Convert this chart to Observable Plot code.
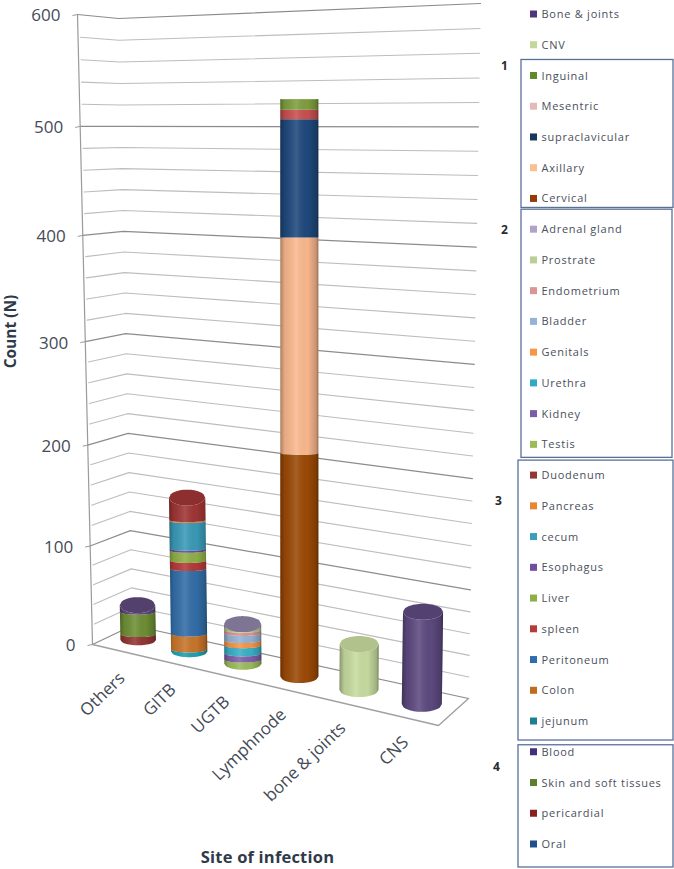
<!DOCTYPE html>
<html>
<head>
<meta charset="utf-8">
<style>
html,body{margin:0;padding:0;background:#fff}
.legend text{letter-spacing:.75px}
.xtitle text{letter-spacing:.2px}
</style>
<script src="https://cdn.jsdelivr.net/npm/d3@7"></script>
<script src="https://cdn.jsdelivr.net/npm/@observablehq/plot@0.6"></script>
</head>
<body>
<script>
// ---------- data ----------
const categories = ["Others", "GITB", "UGTB", "Lymphnode", "bone & joints", "CNS"];

const othersSeries = ["Oral", "pericardial", "Skin and soft tissues", "Blood"];
const othersValues = [0, 6, 23, 7];
const gitbSeries = ["jejunum", "Colon", "Peritoneum", "spleen", "Liver", "Esophagus", "cecum", "Pancreas", "Duodenum"];
const gitbValues = [2, 16, 65, 8, 10, 2, 27, 1, 22];
const ugtbSeries = ["Testis", "Kidney", "Urethra", "Genitals", "Bladder", "Endometrium", "Prostrate", "Adrenal gland"];
const ugtbValues = [4, 6, 8, 5, 7, 3, 3, 3];
const lymphSeries = ["Cervical", "Axillary", "supraclavicular", "Mesentric", "Inguinal"];
const lymphValues = [210, 193, 102, 8, 9];
const boneSeries = ["CNV"];
const boneValues = [43];
const cnsSeries = ["Bone & joints"];
const cnsValues = [84];

const legendLabels = ["Bone & joints", "CNV", "Inguinal", "Mesentric", "supraclavicular", "Axillary", "Cervical",
  "Adrenal gland", "Prostrate", "Endometrium", "Bladder", "Genitals", "Urethra", "Kidney", "Testis",
  "Duodenum", "Pancreas", "cecum", "Esophagus", "Liver", "spleen", "Peritoneum", "Colon", "jejunum",
  "Blood", "Skin and soft tissues", "pericardial", "Oral"];
const legendColors = ["#4f3580", "#c3d69b", "#5f8a2a", "#e6b9b8", "#17375e", "#fac090", "#953a0a",
  "#b3a2c7", "#b9cf96", "#d99694", "#95b3d7", "#f79646", "#31a9c0", "#7b5ea7", "#9bbb59",
  "#953735", "#e8872f", "#3aa0b8", "#6f4f9f", "#8cb043", "#b83b3b", "#2f6db0", "#c46a1f", "#1f7f92",
  "#43307a", "#5f7f2f", "#8a1f22", "#1f4f8f"];
const barColors = {
  "Oral": "#1f497d", "pericardial": "#943634", "Skin and soft tissues": "#6f8f35", "Blood": "#5f497a",
  "jejunum": "#1fa0b0", "Colon": "#c8752a", "Peritoneum": "#336ea8", "spleen": "#b53a3a", "Liver": "#90b048",
  "Esophagus": "#6a4a9a", "cecum": "#3a9ab8", "Pancreas": "#e8872f", "Duodenum": "#a03535",
  "Testis": "#9bbb59", "Kidney": "#8060a8", "Urethra": "#3ab0c8", "Genitals": "#f79646", "Bladder": "#95b3d7",
  "Endometrium": "#d99694", "Prostrate": "#b5cc8e", "Adrenal gland": "#8f85a8",
  "Cervical": "#9c4a06", "Axillary": "#fbb98f", "supraclavicular": "#1f497d", "Mesentric": "#c9504f", "Inguinal": "#7f9f3f",
  "CNV": "#c8dca0", "Bone & joints": "#5d4a80"
};
const yTicks = [0, 100, 200, 300, 400, 500, 600];
const gridValues = d3.range(0, 601, 20);
const legendGroups = [
  {name: "1", first: 2, last: 6},
  {name: "2", first: 7, last: 14},
  {name: "3", first: 15, last: 23},
  {name: "4", first: 24, last: 27}
];

// ---------- 3D perspective box: (u along categories, d depth, v count) -> page ----------
const box = {
  bottom: {fl: [92, 644], bl: [132, 625], br: [468, 698], fr: [438, 725]},
  top: {fl: [77, 14], bl: [118, 18], br: [480, 3], fr: [450, -8]}
};
const uW = 1.17, vW = 1.08, vMax = 600, columnShift = 1.6;
const persp = (a, w) => a / (a + (1 - a) * w);
const lerp = (a, b, t) => a + (b - a) * t;
function project(u, d, v) {
  const s = persp(u, uW), t = persp(v / vMax, vW);
  return [0, 1].map(k => {
    const lo = lerp(lerp(box.bottom.fl[k], box.bottom.fr[k], s), lerp(box.bottom.bl[k], box.bottom.br[k], s), d);
    const hi = lerp(lerp(box.top.fl[k], box.top.fr[k], s), lerp(box.top.bl[k], box.top.br[k], s), d);
    return lerp(lo, hi, t);
  });
}

// ---------- walls ----------
const wallMarks = gridValues.map(v => {
  const major = v % 100 === 0;
  const pts = [project(0, major ? 0 : 0.06, v), project(0, 1, v), project(1, 1, v)];
  return Plot.line(pts, {x: p => p[0], y: p => p[1], stroke: major ? "#8c8c8c" : "#bdbdbd", strokeWidth: major ? 1.2 : 1.1, curve: "linear"});
});
const floorMark = Plot.line([project(0, 0, 0), project(1, 0, 0), project(1, 1, 0)],
  {x: p => p[0], y: p => p[1], stroke: "#a0a0a0", strokeWidth: 1.4});
const axisMark = Plot.line([project(0, 0, 0), project(0, 0, vMax)],
  {x: p => p[0], y: p => p[1], stroke: "#9a9a9a", strokeWidth: 1.2});
const tickMark = Plot.link(yTicks, {
  x1: v => project(0, 0, v)[0] - 5, y1: v => project(0, 0, v)[1] + 1,
  x2: v => project(0, 0, v)[0], y2: v => project(0, 0, v)[1],
  stroke: "#9a9a9a"
});
const tickLabels = Plot.text(yTicks, {
  x: v => project(0, 0, v)[0] - 17, y: v => project(0, 0, v)[1] + 1.5, text: d => String(d),
  textAnchor: "end", fontFamily: "Open Sans", fontSize: 17, fill: "#454b57"
});

// ---------- cylinders ----------
const stacks = [
  [othersSeries, othersValues], [gitbSeries, gitbValues], [ugtbSeries, ugtbValues],
  [lymphSeries, lymphValues], [boneSeries, boneValues], [cnsSeries, cnsValues]
];
const arcT = d3.range(-1, 1.0001, 0.1);
const clamp01 = x => Math.max(0, Math.min(1, x));
const capRy = v => 8 * clamp01((525 - v) / 200);
const innerRy = v => 2.9 * clamp01(1 - v / 400);
function cylinder(i) {
  const u = (i + 0.5) / categories.length, s = persp(u, uW);
  const hw = 17.5 + 2.8 * s, baseRy = 5 + 3 * s;
  const [names, values] = stacks[i];
  const tops = d3.cumsum(values);
  const total = tops[tops.length - 1];
  const rim = (v, ry, t, sign) => {
    const [x, y] = project(u, 0.5, v);
    return {x: x + columnShift + t * hw, y: y + sign * ry * Math.sqrt(Math.max(0, 1 - t * t))};
  };
  const ryAt = v => v === 0 ? baseRy : v === total ? capRy(v) : innerRy(v);
  const side = (v0, v1) => arcT.map(t => {
    const a = rim(v0, ryAt(v0), t, 1), b = rim(v1, ryAt(v1), t, 1);
    return {x1: a.x, y1: a.y, x2: b.x, y2: b.y};
  });
  const areaOpts = {x1: "x1", y1: "y1", x2: "x2", y2: "y2", curve: "linear"};
  const marks = names.map((name, k) =>
    Plot.area(side(k ? tops[k - 1] : 0, tops[k]), {...areaOpts, fill: barColors[name]}));
  marks.push(Plot.area(side(0, total), {...areaOpts, fill: "url(#cylinderShade)"}));
  const cap = arcT.map(t => {
    const a = rim(total, capRy(total), t, 1), b = rim(total, capRy(total), t, -1);
    return {x1: a.x, y1: a.y, x2: b.x, y2: b.y};
  });
  marks.push(Plot.area(cap, {...areaOpts, fill: d3.color(barColors[names[names.length - 1]]).darker(0.35).formatHex()}));
  return marks;
}
const shadeDefs = () => {
  const ns = "http://www.w3.org/2000/svg";
  const defs = document.createElementNS(ns, "defs");
  const g = document.createElementNS(ns, "linearGradient");
  g.setAttribute("id", "cylinderShade");
  [[0, "#000", .32], [.12, "#000", .08], [.42, "#fff", .12], [.72, "#000", .02], [.94, "#000", .2], [1, "#000", .42]].forEach(([o, c, a]) => {
    const st = document.createElementNS(ns, "stop");
    st.setAttribute("offset", o); st.setAttribute("stop-color", c); st.setAttribute("stop-opacity", a);
    g.appendChild(st);
  });
  defs.appendChild(g);
  return defs;
};

// ---------- category labels ----------
const categoryLabels = Plot.text(categories, {
  x: (c, i) => project((i + 0.5) / categories.length, 0.5, 0)[0] - 15,
  y: (c, i) => project((i + 0.5) / categories.length, 0.5, 0)[1] + 35,
  text: d => d, rotate: -44, textAnchor: "end", fontFamily: "Open Sans", fontSize: 17, fill: "#454b57"
});

// ---------- legend ----------
const rowY = i => 14 + 30.74 * i;
const legendIdx = legendLabels.map((_, i) => i);
const legendText = Plot.text(legendIdx, {
  x: () => 541, y: rowY, text: i => legendLabels[i], textAnchor: "start",
  fontFamily: "Open Sans", fontSize: 11, fill: "#4a4f5c", className: "legend"
});
const legendSwatches = Plot.rect(legendIdx, {
  x1: () => 530, x2: () => 537, y1: i => rowY(i) - 3.5, y2: i => rowY(i) + 3.5,
  fill: i => legendColors[i]
});
const boxTop = [16, 20, 15, 7], boxBottom = [9, 13, 19, 23], boxLeft = [521, 521, 518, 518], boxRight = [673, 672, 673, 673];
const legendBoxes = Plot.rect(legendGroups, {
  x1: (g, i) => boxLeft[i], x2: (g, i) => boxRight[i],
  y1: (g, i) => rowY(g.first) - boxTop[i], y2: (g, i) => rowY(g.last) + boxBottom[i],
  fill: "none", stroke: "#5a7099", strokeWidth: 1.3
});
const groupX = [504, 504, 498, 496], groupY = [66, 230, 501, 767];
const groupLabels = Plot.text(legendGroups, {
  x: (g, i) => groupX[i], y: (g, i) => groupY[i], text: "name",
  fontFamily: "Open Sans", fontWeight: "bold", fontSize: 12, fill: "#2a2a2a"
});

// ---------- axis titles ----------
const xTitle = Plot.text(["Site of infection"], {x: () => 267, y: () => 857, text: d => d,
  fontFamily: "Open Sans", fontWeight: "bold", fontSize: 16.5, fill: "#2f3a48", className: "xtitle"});
const yTitle = Plot.text(["Count (N)"], {x: () => 11, y: () => 331, text: d => d, rotate: -90,
  fontFamily: "Open Sans", fontWeight: "bold", fontSize: 15.5, fill: "#2f3a48"});

const chart = Plot.plot({
  width: 674, height: 869, margin: 0,
  x: {type: "identity", axis: null}, y: {type: "identity", axis: null},
  color: {type: "identity"},
  style: {background: "#fff"},
  marks: [
    shadeDefs,
    ...wallMarks, axisMark, floorMark, tickMark, tickLabels,
    ...categories.flatMap((_, i) => cylinder(i)),
    categoryLabels, legendBoxes, legendSwatches, legendText, groupLabels, xTitle, yTitle
  ]
});
document.body.appendChild(chart);
</script>
</body>
</html>
